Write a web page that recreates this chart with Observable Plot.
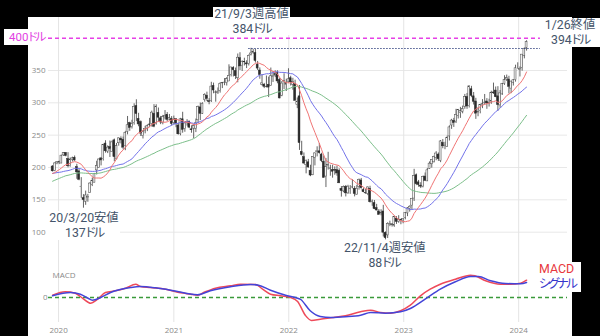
<!DOCTYPE html>
<html><head><meta charset="utf-8">
<script src="https://cdn.jsdelivr.net/npm/d3@7"></script>
<script src="https://cdn.jsdelivr.net/npm/@observablehq/plot@0.6"></script>
<style>
body{margin:0;background:#000;}
#root{position:relative;width:600px;height:336px;background:#000;overflow:hidden;font-family:Roboto,"Noto Sans CJK JP",sans-serif;}
.panel{position:absolute;left:28px;top:17px;width:544px;height:319px;background:#fff;}
.lbl{position:absolute;background:#fff;text-align:center;font-family:Roboto,"Noto Sans CJK JP",sans-serif;font-size:12.3px;line-height:14.6px;color:#44546a;font-feature-settings:"palt" 1;white-space:nowrap;}
.k{letter-spacing:-2px;}
</style></head>
<body>
<div id="root">
<div class="panel"></div>
<div id="price" style="position:absolute;left:28px;top:17px"></div>
<div id="macd" style="position:absolute;left:28px;top:255px"></div>
<div class="lbl" style="left:213px;top:7px;width:77px;height:28px">21/9/3週高値<br>384<span class="k">ドル</span></div>
<div class="lbl" style="left:540px;top:18px;width:60px;height:29px">1/26終値<br>394<span class="k">ドル</span></div>
<div class="lbl" style="left:48px;top:211px;width:72px;height:29px">20/3/20安値<br>137<span class="k">ドル</span></div>
<div class="lbl" style="left:344px;top:241px;width:80px;height:29px">22/11/4週安値<br>88<span class="k">ドル</span></div>
<div class="lbl" style="left:4px;top:29px;width:44px;height:16px;line-height:16px;font-size:11.5px;color:#e23ee2;text-align:left;box-sizing:border-box;padding-left:5px">400<span class="k">ドル</span></div>
<div class="lbl" style="left:537px;top:262px;width:44px;height:30px;line-height:14.6px;font-size:12.4px;text-align:left;padding-left:2px;box-sizing:border-box"><span style="color:#e8383d">MACD</span><br><span style="color:#3636cc;letter-spacing:-2.4px">シグナル</span></div>
</div>
<script>
// weekly closes for MA warm-up (Fridays from 2018-12-14)
const warmupClose = [144.0,124.9,133.2,138.1,143.8,150.0,147.5,166.7,167.3,162.5,
161.9,162.3,169.6,166.0,164.3,166.7,175.7,179.1,178.3,191.5,
195.5,188.3,185.3,181.1,177.5,173.4,181.3,191.1,193.0,197.0,
204.9,198.4,199.8,189.0,187.9,183.7,177.8,185.7,187.5,187.2,
189.9,177.1,180.4,184.2,185.9,187.9,193.6,190.8,195.1,198.8,
201.6,201.1];

// visible weekly candles, Fridays from 2019-12-13
const open = [201.5,194.5,206.3,
206.8,206.1,218.6,222.5,213.1, 202.1,211.5,215,200.5, 194,169.5,152.5,147, 152.5,160.5,173,176.5, 195.5,199.5,214,213,237, 224.6,231.5,224,242, 212.5,237.5,244.5,243,233, 255,268.5,262.5,268.5, 295,275,270,248.5, 256,259,266.5,267,283, 268,284.5,276,268.5, 277.5,281,274,275,
268.7,274.8,265,251.5,274.5, 259.5,269,271,259, 260,260,273,293, 283,304,311,302.5,302.5, 326,316,315,318.5, 330,331,330.5,333, 343,354,349,338,369, 357.5,363,361,360, 374,377,377,359, 350,328,328,325,328, 326,340,342,346, 335,311,333,328,332,
338,328,329,297, 310,224,216,204, 208,195,188,215, 224,225,220,209,186, 203,198,196,196, 196,195,167,163, 170,160,167,169,167, 158,170,180,165, 160,159,167,147,145, 137,132,129,132, 99,95,112,112, 110,121,116,119,118,
122,129,136,141, 152,188,177,172, 170.5,186,178.5,198,205, 208,215,220,210, 238,233,232,248, 265,272,271,280,284, 286,294,309,295, 321,310,302,285, 287,296,300,302,299, 302,316,319,310, 296,313,329,336, 336,322,331,335,354,
351,354,372,385];

const high = [203,207,208.9,
209.8,219,222.9,222.7,223, 214.6,216,217.8,205, 196.8,184.3,158,163.5, 158.5,176.5,183.5,190.8, 209.7,213,215.6,235.8,241.4, 233.5,241,241,244, 237.2,245.6,247.5,247.2,255.9, 278.9,270,273,298.5, 304.7,283.8,272,257, 263.6,266,276,287.2,297.2, 297,292,279,280.6, 288,285,282,278.7,
279.5,275,268.5,276,285.4, 269.3,274,271.8,264.5, 266,275,295,299.7, 300,314,316.5,306.5,331.8, 330.5,318.5,323,331, 331.5,337.5,339,358.8, 355,356,353.8,375.5,377.5, 365,369,365,374, 384.3,382.8,382.6,364, 354,343.6,330,341.5,339.8, 353.8,348.4,349.5,349.5, 338,333,344.9,336.5,352.7,
341.1,338,335,307.6, 326.8,240.5,222.5,211.5, 212.5,203.5,217,222.5, 232,237,222,218,214, 223.5,203.5,203.5,201, 202,198,170.5,171.4, 172.2,172.5,172,181,170.5, 172.5,182.2,183.1,168, 166,170,171,149.7,149, 143,135,134.7,141.5, 100.5,114.5,117,113, 124.5,124,125.5,120,121,
130.3,138,140.7,152, 197.2,190,180,176.5, 186.5,191.5,198.5,208.7,212.2, 217.5,224.5,222.5,241.7, 243.2,239,248.5,264.5, 274.5,276,290,289.8,293, 295,313,314.5,326.2, 325.5,316,307,292, 297,305,312.9,306.5,305.5, 318,330.5,324.5,325, 319,330,341.9,342.9, 341,333.5,336,358.2,361.9,
355.5,374.8,385,396];

const low = [193,193.5,204.3,
204.5,206,217.2,216.5,199.5, 200.5,208.5,209.5,181.8, 179.5,152.5,137.1,141.5, 146.3,160,170.5,176.5, 188.5,199.5,202.5,210,222.2, 221.5,215.5,224,209, 212,233,236.5,227.3,226, 250.5,256,259.5,265.5, 271,263,248,244.1, 252,255.5,261.5,262.5,261.5, 265.5,270,266.3,266, 273.5,271,272.5,264.1,
266,261.5,250,249,253, 254.5,264,260,253, 244.6,254,268,272.5, 282,301,302,297,300.5, 314,301,313,315, 322,326.5,326,333, 340,340,336,331,350, 348.5,357,353,357, 372.5,375.2,361.5,350, 336.5,326.2,322,323,308.1, 326,331.5,339,329.5, 306.1,309.5,320.6,317.5,330.5,
326,319.5,302.5,291, 226.4,218,205,190.2, 198.9,185.8,187.4,202.5, 216.4,220.5,207.5,183.5,169, 196,186.5,183.5,188, 186.5,175,154.2,161, 154.5,158.5,158.5,167,154.6, 157.3,165,166.5,161, 158.5,156.5,145,140,134.8, 133,126.5,125.3,92.6, 88.1,90.2,108.5,107.9, 107.5,112,113.8,111.5,113,
119,124,131,134.5, 147.5,172,169.5,167.5, 168.5,178.3,178.3,197,199, 207,210.5,209.5,207.5, 229,227.5,231,241, 259,262,268,275,276, 283,290,290,292, 308,296.6,274.4,278.5, 283,291,296.5,290,293.5, 297.6,313,308,286.8, 291.5,311.6,327,333, 313.7,314.2,326,332,352,
340,349,368,380];

const close = [194.1,206.3,208.1,
208.7,218.3,222.1,217.9,201.9, 212.3,214.2,210.9,192.5, 181.1,170.3,149.7,156.8, 154.2,175.2,179.2,190.1, 202.3,212.4,210.9,234.9,225.1, 230.8,228.6,238.8,216.1, 233.4,245.1,242.0,230.7,253.7, 265.3,261.2,267.0,293.7, 282.7,266.6,252.5,254.8, 259.9,264.5,265.9,284.8,263.1, 294.0,277.0,269.7,277.8, 279.7,273.6,276.4,267.4,
273.2,267.6,251.4,274.5,258.3, 268.1,270.5,261.6,257.6, 264.3,268.4,293.5,283.0, 298.7,312.5,306.2,301.1,325.1, 319.1,315.9,316.2,328.7, 330.4,331.3,336.5,341.4, 354.7,350.4,341.2,369.8,356.3, 363.5,362.7,359.4,372.6, 376.3,378.7,364.7,353.0, 343.0,330.1,324.8,324.6,323.6, 341.1,340.9,345.3,333.1, 306.8,329.8,333.8,330.5,336.4,
331.8,331.9,303.2,301.7, 237.8,219.6,206.2,210.5, 200.1,187.6,216.5,221.8, 224.9,222.3,210.2,184.1,200.5, 203.8,198.6,193.5,195.1, 190.8,175.6,163.7,170.2, 160.0,170.3,167.2,169.3,159.1, 167.1,180.9,168.0,161.8, 160.3,169.2,146.3,147.3,135.7, 133.5,126.8,130.0,99.2, 90.8,113.0,112.1,111.4, 123.5,115.9,119.4,118.0,120.3,
130.0,136.7,139.4,151.7, 186.5,174.2,173.0,170.4, 185.3,179.5,195.6,206.0,211.9, 216.1,221.6,212.9,240.3, 232.8,233.8,245.6,262.0, 272.6,268.8,281.0,288.7,287.1, 290.5,308.9,294.3,325.5, 310.7,301.6,283.3,285.5, 296.4,297.9,300.3,299.1,300.2, 315.4,314.7,308.7,296.7, 314.6,328.8,335.0,338.2, 324.8,332.8,334.9,353.4,354.0,
352.0,374.5,383.5,394.1];

// MACD panel (pixel-scaled units)
const macdDates = ["2019-12-13","2020-01-22","2020-02-23","2020-03-10","2020-04-05","2020-04-11","2020-05-04","2020-05-29","2020-06-30","2020-08-01","2020-09-02","2020-09-17","2020-10-19","2020-12-06","2021-01-07","2021-02-23","2021-03-17","2021-04-11","2021-05-13","2021-06-30","2021-08-01","2021-09-18","2021-10-10","2021-11-04","2021-12-06","2022-01-07","2022-01-29","2022-02-23","2022-03-14","2022-04-11","2022-05-23","2022-06-30","2022-08-17","2022-09-18","2022-10-19","2022-11-20","2022-12-22","2023-01-22","2023-02-23","2023-03-26","2023-04-27","2023-06-14","2023-08-01","2023-08-15","2023-09-18","2023-11-04","2023-12-06","2024-01-07","2024-01-26"];
const macdValues = [2.4,5.7,4.3,1,-5,-5.7,-1.7,5,6.7,9.3,13.3,11,10,8.3,5.7,3.3,2.3,5.7,9.3,11.7,13.3,13,8.3,3.3,1.7,0,-4,-18,-23,-21.7,-20,-18.3,-14.3,-12.7,-15,-15.7,-13.3,-7.7,1.7,8.3,13.3,18.3,22.3,21.7,16.7,13.3,13.3,14.3,17.3];
const signalDates = ["2019-12-13","2020-02-08","2020-03-10","2020-04-05","2020-04-17","2020-05-14","2020-06-14","2020-08-17","2020-09-17","2020-11-04","2020-12-22","2021-02-08","2021-03-17","2021-04-27","2021-06-30","2021-09-02","2021-09-27","2021-11-04","2021-12-22","2022-01-22","2022-02-08","2022-03-10","2022-04-11","2022-05-14","2022-06-30","2022-08-17","2022-09-18","2022-11-04","2022-12-22","2023-01-22","2023-03-10","2023-04-27","2023-06-14","2023-08-01","2023-08-26","2023-10-04","2023-11-20","2024-01-07","2024-01-26"];
const signalValues = [1.7,5,3.3,-1,-2.7,0,5,10,11,9.7,7.3,4.3,2.7,6.7,10.7,13,12.3,7.3,2.3,0,-2,-13.3,-19,-20,-19.3,-17.7,-15,-15.7,-14.3,-11,-1.7,8.3,15.7,21,21,16.7,14,13.7,15];

const priceTicks = [100,150,200,250,300,350];
const yearTickStrings = ["2020-01-01","2021-01-01","2022-01-01","2023-01-01","2024-01-01"];
const levelLines = [{name:"400", y:400, from:"2019-11-30", to:"2024-03-10"}, {name:"high", y:384, from:"2021-08-27", to:"2024-03-10"}];

const parse = d3.utcParse("%Y-%m-%d");
const xDomain = [parse("2019-11-30"), parse("2024-06-04")];
const yearTicks = yearTickStrings.map(parse);
const warmStart = parse("2018-12-14");
const visStart = parse("2019-12-13");

const all = [...warmupClose, ...close].map((c, i) => ({date: d3.utcDay.offset(warmStart, 7 * i), close: c, visible: i >= warmupClose.length}));
const candles = close.map((c, i) => ({date: d3.utcDay.offset(visStart, 7 * i), open: open[i], high: high[i], low: low[i], close: c}));
const up = candles.filter(d => d.close >= d.open);
const down = candles.filter(d => d.close < d.open);
const lines = levelLines.map(d => ({...d, x1: parse(d.from), x2: parse(d.to)}));

const ma = (k, color) => Plot.lineY(all, Plot.filter(d => d.visible,
  Plot.windowY({k, anchor: "end"}, {x: "date", y: "close", stroke: color, strokeWidth: 1})));

const baseStyle = {fontFamily: "'Open Sans', sans-serif", fontSize: "8px", color: "#8a8a8a", background: "transparent", overflow: "visible"};

const price = Plot.plot({
  width: 544, height: 238,
  marginLeft: 20, marginRight: 5, marginTop: 0, marginBottom: 0,
  style: baseStyle,
  x: {type: "utc", domain: xDomain, axis: null},
  y: {domain: [63.93, 431.95], ticks: priceTicks, tickSize: 0, tickPadding: 3, label: null},
  marks: [
    Plot.ruleY(priceTicks, {stroke: "#e8e8e8", strokeWidth: 1}),
    Plot.ruleX(yearTicks, {stroke: "#e4e4e4", strokeWidth: 1}),
    Plot.ruleX(candles, {x: "date", y1: "low", y2: "high", stroke: "#3c3c3c", strokeWidth: 0.8}),
    Plot.rect(up, {x1: d => d3.utcDay.offset(d.date, -3), x2: d => d3.utcDay.offset(d.date, 3), y1: "open", y2: "close", fill: "#f3f3f3", stroke: "#444", strokeWidth: 0.5}),
    Plot.rect(down, {x1: d => d3.utcDay.offset(d.date, -3), x2: d => d3.utcDay.offset(d.date, 3), y1: "open", y2: "close", fill: "#2b2b2b", stroke: "#2b2b2b", strokeWidth: 0.5}),
    ma(52, "#7cbf8a"),
    ma(26, "#7373ea"),
    ma(13, "#f07474"),
    Plot.ruleY(lines.filter(d => d.name === "400"), {y: "y", x1: "x1", x2: "x2", stroke: "#e640e6", strokeWidth: 1.5, strokeDasharray: "4,3"}),
    Plot.ruleY(lines.filter(d => d.name === "high"), {y: "y", x1: "x1", x2: "x2", stroke: "#2a3a7a", strokeWidth: 1.2, strokeDasharray: "1.3,1.7"})
  ]
});
document.getElementById("price").appendChild(price);

const macdData = macdDates.map((d, i) => ({date: parse(d), v: macdValues[i]}));
const signalData = signalDates.map((d, i) => ({date: parse(d), v: signalValues[i]}));

const macd = Plot.plot({
  width: 544, height: 81,
  marginLeft: 20, marginRight: 5, marginTop: 0, marginBottom: 14,
  style: baseStyle,
  x: {type: "utc", domain: xDomain, ticks: yearTicks, tickFormat: d3.utcFormat("%Y"), tickSize: 0, tickPadding: 5, label: null},
  y: {domain: [-25, 42], ticks: [0], tickSize: 0, tickPadding: 1, label: null},
  marks: [
    Plot.ruleX(yearTicks, {stroke: "#e4e4e4", strokeWidth: 1}),
    Plot.ruleY([0], {stroke: "#3a9a3a", strokeWidth: 1.5, strokeDasharray: "4,3"}),
    Plot.lineY(macdData, {x: "date", y: "v", stroke: "#ee4a5a", strokeWidth: 1.5, curve: "monotone-x"}),
    Plot.lineY(signalData, {x: "date", y: "v", stroke: "#4444d8", strokeWidth: 1.5, curve: "monotone-x"}),
    Plot.text(["MACD"], {text: d => d, frameAnchor: "top-left", dx: 4, dy: 17, textAnchor: "start", fill: "#8a8a8a", fontSize: 8})
  ]
});
document.getElementById("macd").appendChild(macd);
</script>
</body></html>
